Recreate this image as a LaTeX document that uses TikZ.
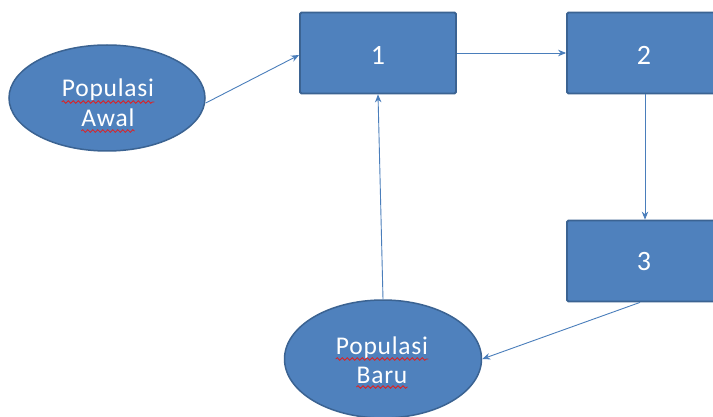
\documentclass[tikz,border=0pt]{standalone}
\usepackage{fontspec}
\setmainfont{Carlito}
\newfontfamily\lblfont[LetterSpace=3]{Carlito}
\usetikzlibrary{decorations.pathmorphing,arrows.meta,shapes.geometric}
\definecolor{boxfill}{HTML}{4F81BD}
\definecolor{boxline}{HTML}{3B6392}
\definecolor{arrcol}{HTML}{4A7EBB}
\definecolor{spellred}{HTML}{E02020}
\tikzset{
  procbox/.style={draw=boxline, fill=boxfill, line width=1.8pt, rounded corners=1.5pt,
    minimum width=156pt, minimum height=81pt, inner sep=0pt},
  popell/.style={ellipse, draw=boxline, fill=boxfill, line width=1.5pt, inner sep=0pt},
  lbl/.style={text=white, font=\lblfont\fontsize{25.5}{30}\selectfont, inner sep=0pt},
  num/.style={text=white, font=\fontsize{28}{32}\selectfont, inner sep=0pt},
  conn/.style={draw=arrcol, line width=0.9pt, -{Stealth[length=8pt,width=6.5pt]}},
  wavy/.style={draw=spellred, line width=0.8pt, decorate,
    decoration={snake, amplitude=1.3pt, segment length=5pt}}
}
\begin{document}
\begin{tikzpicture}[x=1pt,y=-1pt]
\clip (0,0) rectangle (713,417);
\fill[white] (0,0) rectangle (713,417);
% shapes
\node[popell, minimum width=196pt, minimum height=106pt] (awal) at (107,98) {};
\node[procbox] (b1) at (378,53) {};
\node[procbox] (b2) at (645,53) {};
\node[procbox] (b3) at (645,261) {};
\node[popell, minimum width=197pt, minimum height=118pt] (baru) at (383,359) {};
% numbers
\node[num] (n1) at (378,55) {1};
\node[num] (n2) at (644,55) {2};
\node[num] (n3) at (644,262) {3};
% labels
\node[lbl, anchor=base] (a1) at (108,97) {Populasi};
\node[lbl, anchor=base] (a2) at (108,127) {Awal};
\node[lbl, anchor=base] (r1) at (382,354) {Populasi};
\node[lbl, anchor=base] (r2) at (382,383) {Baru};
\draw[wavy] ([yshift=-5pt]a1.base west) -- ([yshift=-5pt]a1.base east);
\draw[wavy] ([yshift=-4pt]a2.base west) -- ([yshift=-4pt]a2.base east);
\draw[wavy] ([yshift=-5pt]r1.base west) -- ([yshift=-5pt]r1.base east);
\draw[wavy] ([yshift=-4pt]r2.base west) -- ([yshift=-4pt]r2.base east);
% connectors
\draw[conn] ([yshift=-5pt]awal.east) -- ([yshift=-2pt]b1.west);
\draw[conn] (b1.east) -- (b2.west);
\draw[conn] (b2.south) -- (b3.north);
\draw[conn] ([xshift=-5pt]b3.south) -- (baru.east);
\draw[conn] (baru.north) -- (b1.south);
\end{tikzpicture}
\end{document}
